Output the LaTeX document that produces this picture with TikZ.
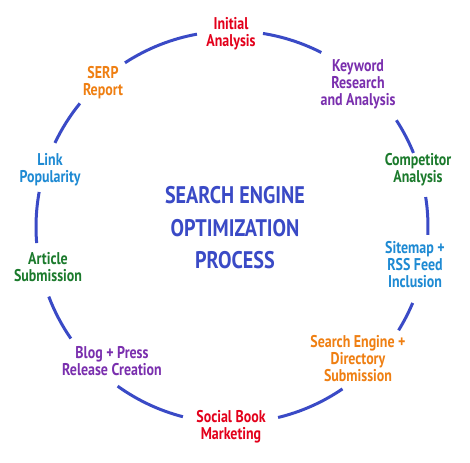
\documentclass[tikz,border=0pt]{standalone}
\usepackage{fontspec}
\setmainfont{PT Sans}[FakeStretch=0.82]
\newfontfamily\titlefont{PT Sans}[FakeStretch=0.84]
\definecolor{ringblue}{HTML}{3A4AC6}
\definecolor{lred}{HTML}{E3001B}
\definecolor{lpurple}{HTML}{7A2FAE}
\definecolor{lgreen}{HTML}{1B7A2C}
\definecolor{lblue}{HTML}{1E8AD3}
\definecolor{lorange}{HTML}{EF7F12}
\tikzset{
  ring/.style={draw=ringblue, line width=3pt},
  lbl/.style={align=center, inner sep=0pt, font=\fontsize{17}{17}\selectfont\bfseries},
  ttl/.style={align=center, inner sep=0pt, text=ringblue, font=\titlefont\fontsize{24}{32.5}\selectfont\bfseries},
}
\begin{document}
\begin{tikzpicture}[x=1pt,y=1pt]
\useasboundingbox (0,0) rectangle (470,462);
\fill[white] (0,0) rectangle (470,462);
\coordinate (c) at (232,235);
\node[ttl] (title) at (235,234) {SEARCH ENGINE\\OPTIMIZATION\\PROCESS};
\node[lbl, text=lred] (n1) at (231,428) {Initial\\Analysis};
\node[lbl, text=lpurple] (n2) at (358,378) {Keyword\\Research\\and Analysis};
\node[lbl, text=lgreen] (n3) at (418,292) {Competitor\\Analysis};
\node[lbl, text=lblue] (n4) at (415,197) {Sitemap +\\RSS Feed\\Inclusion};
\node[lbl, text=lorange] (n5) at (358,103) {Search Engine +\\Directory\\Submission};
\node[lbl, text=lred] (n6) at (231,35) {Social Book\\Marketing};
\node[lbl, text=lpurple] (n7) at (112,101) {Blog + Press\\Release Creation};
\node[lbl, text=lgreen] (n8) at (48,195) {Article\\Submission};
\node[lbl, text=lblue] (n9) at (50,292) {Link\\Popularity};
\node[lbl, text=lorange] (n10) at (103,379) {SERP\\Report};
\foreach \a/\b in {80.9/62.9, 33.0/22.2, 8.8/-2.3, -22.8/-31.8, -55.7/-76.4, -104.5/-125.7, -145.3/-159.2, 184.7/169.7, 154.6/140.9, 123.1/100.3}{
  \draw[ring] ([shift={(c)}]\a:196) arc[start angle=\a, end angle=\b, radius=196];
}
\end{tikzpicture}
\end{document}
